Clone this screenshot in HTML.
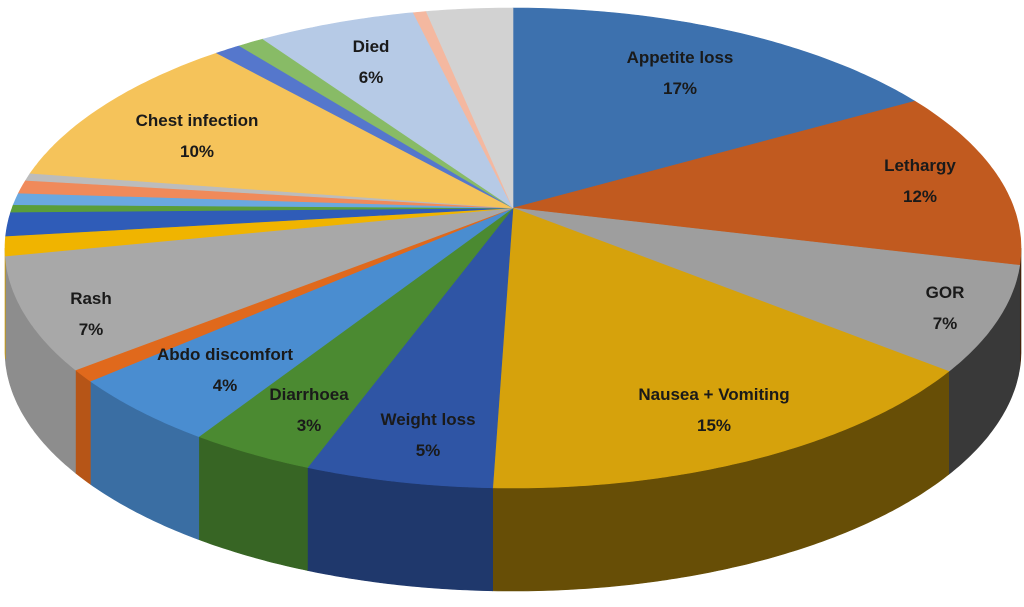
<!DOCTYPE html>
<html><head><meta charset="utf-8"><style>
html,body{margin:0;padding:0;background:#fff;width:1024px;height:607px;overflow:hidden}
svg{display:block}
text{font-family:"Liberation Sans",sans-serif;font-weight:bold;font-size:17px;fill:#1a1a1a}
</style></head><body>
<svg id="chart" width="1024" height="607" viewBox="0 0 1024 607">
<g id="sides"></g>
<g id="tops"></g>
<g id="labels"></g>
</svg>
<script>
const categories=["Appetite loss","Lethargy","GOR","Nausea + Vomiting","Weight loss","Diarrhoea","Abdo discomfort","Other A","Rash","Other B","Other C","Other D","Other E","Other F","Other G","Chest infection","Other H","Other I","Died","Other J","Other K"];
const values=[17,12,7,15,5.2,3.5,4.5,0.8,7.5,1.3,1.6,0.5,0.8,0.9,0.5,11,1,1,6,0.5,3.3];
const percentLabels=["17%","12%","7%","15%","5%","3%","4%","","7%","","","","","","","10%","","","6%","",""];
const colors=["#3d71ae","#c15a1f","#9e9e9e","#d6a20c","#2f55a5","#4b8a31","#4a8dd0","#e0691c","#a8a8a8","#f0b400","#2f5cb8","#5a9e3a","#6aa8e0","#f08a5a","#bcbcbc","#f5c35a","#5577cc","#88bb66","#b6cae6","#f4b8a0","#d2d2d2"];
const labelPos={"Appetite loss":[680,57],"Lethargy":[920,165],"GOR":[945,292],"Nausea + Vomiting":[714,394],"Weight loss":[428,419],"Diarrhoea":[309,394],"Abdo discomfort":[225,354],"Rash":[91,298],"Chest infection":[197,120],"Died":[371,46]};
const cx=513,cy=248,rx=508,ry=240,ax=513,ay=208,depth=103;
const NS="http://www.w3.org/2000/svg";
const total=values.reduce((a,b)=>a+b,0);
function boundary(f){const t=2*Math.PI*f;const dx=Math.sin(t)*rx,dy=-Math.cos(t)*ry;
 const A=(dx/rx)**2+(dy/ry)**2,B=2*((ax-cx)*dx/rx/rx+(ay-cy)*dy/ry/ry),C=((ax-cx)/rx)**2+((ay-cy)/ry)**2-1;
 const s=(-B+Math.sqrt(B*B-4*A*C))/(2*A);const x=ax+dx*s,y=ay+dy*s;
 let u=Math.atan2((x-cx)/rx,-(y-cy)/ry);if(u<0)u+=2*Math.PI;if(f>=0.9999)u=2*Math.PI;return u;}
function pt(u,off){return [cx+rx*Math.sin(u),cy-ry*Math.cos(u)+(off||0)];}
function arc(u0,u1,off){const pts=[];const n=Math.max(2,Math.ceil((u1-u0)/0.01));for(let i=0;i<=n;i++){const u=u0+(u1-u0)*i/n;pts.push(pt(u,off));}return pts;}
function shade(hex,k){const n=parseInt(hex.slice(1),16);const r=Math.round(((n>>16)&255)*k),g=Math.round(((n>>8)&255)*k),b=Math.round((n&255)*k);return `rgb(${r},${g},${b})`;}
const sides=document.getElementById('sides'),tops=document.getElementById('tops'),labels=document.getElementById('labels');
let cum=0;
values.forEach((v,i)=>{
 const u0=boundary(cum/total);cum+=v;const u1=boundary(cum/total);
 const top=[[ax,ay]].concat(arc(u0,u1,0));
 const p=document.createElementNS(NS,'path');
 p.setAttribute('d','M'+top.map(q=>q[0].toFixed(1)+','+q[1].toFixed(1)).join('L')+'Z');
 p.setAttribute('fill',colors[i]);p.setAttribute('stroke',colors[i]);p.setAttribute('stroke-width','0.6');
 
 
 tops.appendChild(p);
 const s0=Math.max(u0,Math.PI/2),s1=Math.min(u1,3*Math.PI/2);
 if(s1>s0){const um=(s0+s1)/2;const k=0.6-0.25*Math.sin(um);
  const up=arc(s0,s1,0),dn=arc(s0,s1,depth).reverse();
  const sp=document.createElementNS(NS,'path');
  sp.setAttribute('d','M'+up.concat(dn).map(q=>q[0].toFixed(1)+','+q[1].toFixed(1)).join('L')+'Z');
  sp.setAttribute('fill',shade(colors[i],k));sp.setAttribute('stroke',shade(colors[i],k));sp.setAttribute('stroke-width','0.6');
  
  
  sides.appendChild(sp);}
 const lp=labelPos[categories[i]];
 if(lp){const t1=document.createElementNS(NS,'text');t1.setAttribute('x',lp[0]);t1.setAttribute('y',lp[1]+6);t1.setAttribute('text-anchor','middle');t1.textContent=categories[i];
  
  labels.appendChild(t1);
  const t2=document.createElementNS(NS,'text');t2.setAttribute('x',lp[0]);t2.setAttribute('y',lp[1]+37);t2.setAttribute('text-anchor','middle');t2.textContent=percentLabels[i];
  
  labels.appendChild(t2);}
});
</script>
</body></html>
